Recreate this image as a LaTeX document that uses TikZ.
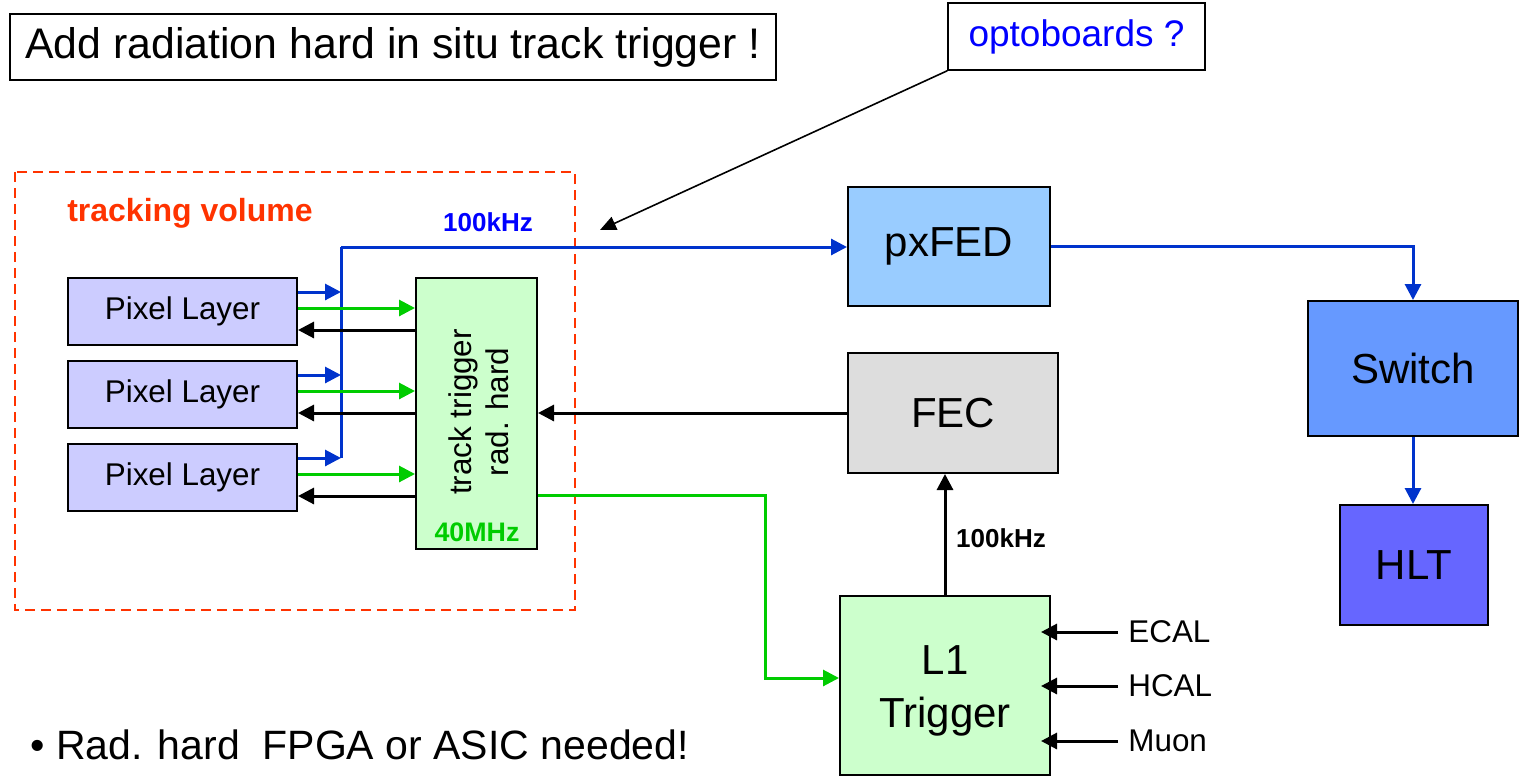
\documentclass[tikz,border=0pt]{standalone}
\usepackage{fontspec}
\setmainfont{Liberation Sans}
\usetikzlibrary{arrows.meta}
\definecolor{bus}{HTML}{0033CC}
\definecolor{trig}{HTML}{00CC00}
\definecolor{vol}{HTML}{FF3300}
\definecolor{pixfill}{HTML}{CCCCFF}
\definecolor{ttfill}{HTML}{CCFFCC}
\definecolor{pxfill}{HTML}{99CCFF}
\definecolor{fecfill}{HTML}{DDDDDD}
\definecolor{swfill}{HTML}{6699FF}
\definecolor{hltfill}{HTML}{6666FF}
\newcommand{\fsz}[1]{\fontsize{#1}{#1}\selectfont}
\newcommand{\fszs}[2]{\fontsize{#1}{#2}\selectfont}
\begin{document}
\begin{tikzpicture}[x=0.5pt,y=-0.5pt,
  box/.style={draw, line width=1pt, inner sep=0pt, align=center},
  bigbox/.style={box, font=\fsz{21}},
  pixbox/.style={box, fill=pixfill, minimum width=114.5pt, minimum height=33.5pt, font=\fsz{15.7}},
  tip/.style={-{Triangle[length=8pt,width=8pt]}},
  bluearr/.style={tip, draw=bus, line width=1.5pt},
  blueline/.style={draw=bus, line width=1.5pt},
  greenarr/.style={tip, draw=trig, line width=1.5pt},
  blackarr/.style={tip, draw=black, line width=1.5pt},
  ratelbl/.style={font=\bfseries\fsz{13}}]
\useasboundingbox (0,0) rectangle (1533,782);

% headline and annotation
\node[box, line width=0.8pt, minimum width=383pt, minimum height=33pt, font=\fsz{21.4}] (title) at (393,47) {Add radiation hard in situ track trigger !};
\node[box, line width=0.8pt, minimum width=128.5pt, minimum height=33.5pt, font=\fsz{18.5}, text=blue] (opto) at (1076.5,36.5) {optoboards ?};
\coordinate (optotip) at (600,230);
\draw[-{Triangle[length=8pt,width=7pt]}, line width=0.8pt] (opto.south west) -- (optotip);

% tracking volume
\draw[vol, dashed, dash pattern=on 5pt off 3pt, line width=0.8pt] (15,172) rectangle (575,610);
\node[text=vol, font=\bfseries\fsz{16}] (voltxt) at (190,213) {tracking volume};
\node[ratelbl, text=blue] (busrate) at (488,222) {100kHz};

% pixel layers and track trigger
\node[pixbox] (pl1) at (182.5,311.5) {Pixel Layer};
\node[pixbox] (pl2) at (182.5,394.5) {Pixel Layer};
\node[pixbox] (pl3) at (182.5,477.5) {Pixel Layer};
\node[box, fill=ttfill, minimum width=60.5pt, minimum height=135.5pt] (tt) at (476.5,413.5) {};
\node[rotate=90, align=center, font={\fszs{15.7}{18.7}}, inner sep=0pt] (tttxt) at (479,412) {track trigger\\rad. hard};
\node[text=trig, font=\bfseries\fsz{13.4}] (ttrate) at (477,532) {40MHz};

% readout chain
\node[bigbox, fill=pxfill, minimum width=101pt, minimum height=59.5pt] (px) at (949,246.5) {pxFED};
\node[bigbox, fill=fecfill, minimum width=105pt, minimum height=60pt] (fec) at (953,413) {FEC};
\node[bigbox, fill=swfill, minimum width=105pt, minimum height=67.5pt] (sw) at (1413,368.5) {Switch};
\node[bigbox, fill=hltfill, minimum width=74pt, minimum height=60pt] (hlt) at (1414,565) {HLT};
\node[bigbox, fill=ttfill, minimum width=105pt, minimum height=89.5pt] (l1) at (945,685.5) {\rule{0pt}{20pt}L1\\[5.5pt]Trigger};

% readout bus
\coordinate (bustop) at (341,247);
\coordinate (busbot) at ([yshift=9.75pt]pl3.east -| bustop);
\draw[blueline] (busbot) -- (bustop);
\draw[bluearr] (bustop) -- (bustop -| px.west);
\foreach \p in {pl1,pl2,pl3} {
  \draw[bluearr] ([yshift=9.75pt]\p.east) -- ([yshift=9.75pt]\p.east -| bustop);
  \draw[greenarr] ([yshift=1.75pt]\p.east) -- ([yshift=1.75pt]\p.east -| tt.west);
  \draw[blackarr] ([yshift=-9.25pt]\p.east -| tt.west) -- ([yshift=-9.25pt]\p.east);
}
\draw[bluearr] (px.east) -| (sw.north);
\draw[bluearr] (sw.south) -- (sw.south |- hlt.north);

% control and trigger paths
\draw[blackarr] (fec.west) -- (fec.west -| tt.east);
\draw[blackarr] (l1.north) -- (l1.north |- fec.south);
\node[ratelbl] (l1rate) at (1001,538) {100kHz};
\coordinate (gturn) at (765,678);
\draw[greenarr] ([yshift=-40.75pt]tt.east) -| (gturn) -- (gturn -| l1.west);

% calorimeter and muon inputs
\foreach \n/\t/\y in {ecal/ECAL/632, hcal/HCAL/686, muon/Muon/741} {
  \node[anchor=west, font=\fsz{15.7}, inner sep=0pt] (\n) at (1128,\y) {\t};
  \draw[blackarr] ([xshift=-5pt]\n.west) -- ([xshift=-5pt]\n.west -| l1.east);
}

% note
\node[anchor=west, font=\fsz{20.5}, inner sep=0pt] (note) at (30,745) {\textbullet\ Rad. hard \ FPGA or ASIC needed!};
\end{tikzpicture}
\end{document}
